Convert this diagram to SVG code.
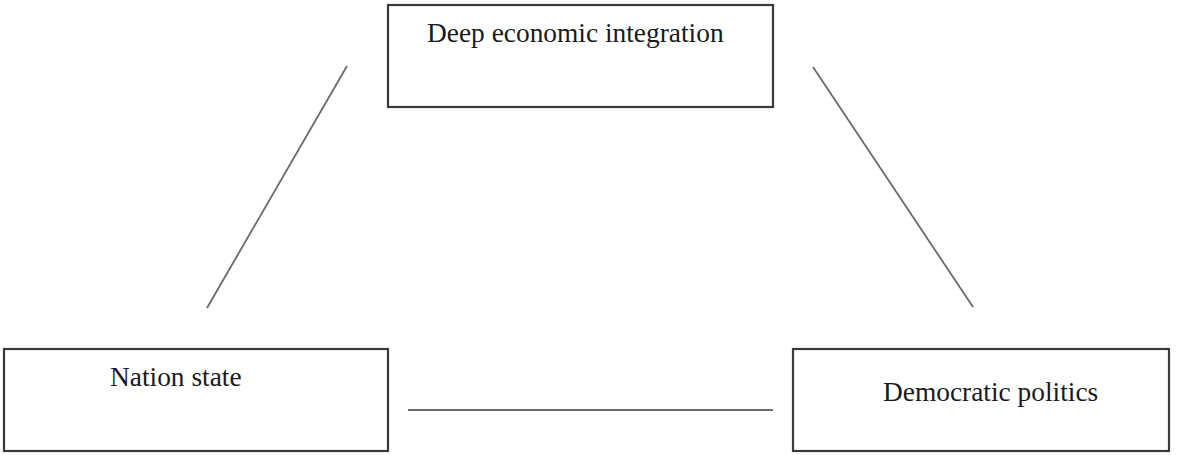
<svg xmlns="http://www.w3.org/2000/svg" width="1181" height="455" viewBox="0 0 1181 455">
<style>
.box{fill:#fff;stroke:#3a3a3a;stroke-width:2.2}
.lbl{font-family:"Liberation Serif","Times New Roman",serif;font-size:27.4px;fill:#1a1a1a}
.conn{stroke:#6a6a6a;stroke-width:1.8;fill:none}
</style>
<rect width="1181" height="455" fill="#fff"/>
<g id="connectors">
<line class="conn" x1="347" y1="66" x2="207" y2="308"/>
<line class="conn" x1="813" y1="67" x2="973" y2="307"/>
<line class="conn" x1="408" y1="410" x2="773" y2="410"/>
</g>
<g id="node-deep">
<rect class="box" x="388" y="5" width="385" height="102"/>
<text class="lbl" x="427" y="42">Deep economic integration</text>
</g>
<g id="node-nation">
<rect class="box" x="4" y="349" width="384" height="102"/>
<text class="lbl" x="110" y="386">Nation state</text>
</g>
<g id="node-democratic">
<rect class="box" x="793" y="349" width="376" height="102"/>
<text class="lbl" x="883" y="401">Democratic politics</text>
</g>
</svg>
